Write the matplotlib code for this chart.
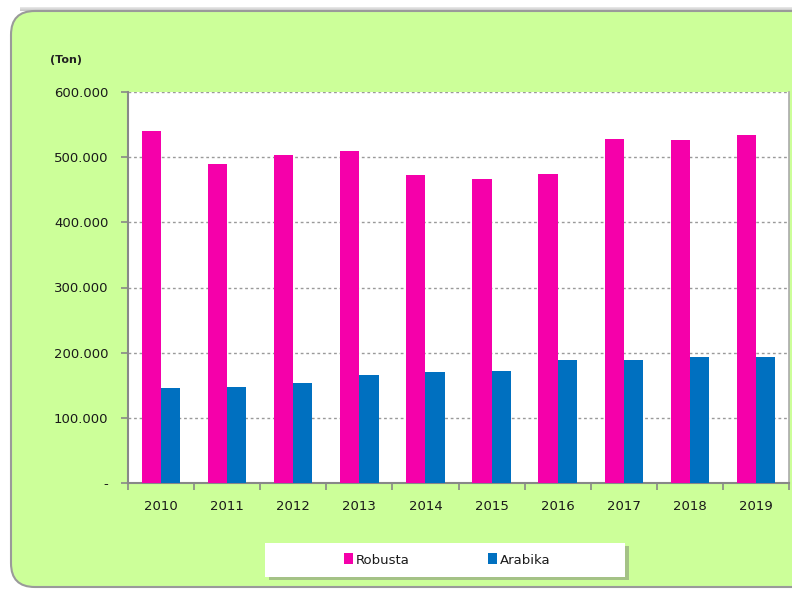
import matplotlib
matplotlib.use("Agg")
import matplotlib.pyplot as plt
import numpy as np
from matplotlib.patches import FancyBboxPatch, Rectangle, Patch
from matplotlib.ticker import FixedLocator

years = ["2010", "2011", "2012", "2013", "2014", "2015", "2016", "2017", "2018", "2019"]
robusta = [540000, 489500, 503000, 509000, 472500, 466500, 474000, 528000, 527000, 534000]
arabika = [146000, 148000, 153000, 165000, 170000, 172000, 189000, 189000, 193000, 194000]
yticks = [0, 100000, 200000, 300000, 400000, 500000, 600000]
ytick_labels = ["-", "100.000", "200.000", "300.000", "400.000", "500.000", "600.000"]

W, H = 792, 590
fig = plt.figure(figsize=(W / 100, H / 100), dpi=100)
fig.patch.set_facecolor("white")

# subtle top shadow
for i, a in enumerate([0.10, 0.14, 0.18, 0.22]):
    fig.patches.append(Rectangle((20 / W, (H - 8 - i) / H), 1, 1 / H, transform=fig.transFigure,
                                 facecolor="black", edgecolor="none", alpha=a, zorder=-11))

# green panel background
panel = FancyBboxPatch((11 / W, 3 / H), (W + 30) / W, (H - 14) / H,
                       boxstyle="round,pad=0,rounding_size=0.03",
                       transform=fig.transFigure, facecolor="#CCFF99",
                       edgecolor="#9a9a9a", linewidth=1.5, zorder=-10,
                       mutation_aspect=W / H)
fig.patches.append(panel)

ax = fig.add_axes([128 / W, (H - 483) / H, (789 - 128) / W, (483 - 92) / H])
ax.set_zorder(5)
ax.set_facecolor("white")

x = np.arange(len(years))
bw = 0.29
ax.bar(x - bw / 2, robusta, bw, color="#F500AA", zorder=3)
ax.bar(x + bw / 2, arabika, bw, color="#0070C0", zorder=3)

ax.set_xlim(-0.5, len(years) - 0.5)
ax.set_ylim(0, 600000)
ax.set_yticks(yticks)
ax.set_yticklabels(ytick_labels)
ax.set_xticks(x)
ax.set_xticklabels(years)
ax.xaxis.set_minor_locator(FixedLocator(np.arange(-0.5, len(years), 1.0)))
ax.tick_params(axis="x", which="major", length=0, pad=12, labelsize=9.5, labelcolor="#1a1a1a")
ax.tick_params(axis="x", which="minor", length=5, width=1.2, color="#888888", direction="out")
ax.tick_params(axis="y", length=5, width=1.2, color="#888888", pad=9, labelsize=9.5, labelcolor="#1a1a1a")

ax.yaxis.grid(True, linestyle=(0, (2, 2)), color="#9a9a9a", linewidth=1.0, zorder=1)
ax.set_axisbelow(True)
for s in ["left", "bottom"]:
    ax.spines[s].set_color("#888888")
    ax.spines[s].set_linewidth(1.5)
ax.spines["right"].set_color("#aaaaaa")
ax.spines["right"].set_linewidth(1.2)
ax.spines["top"].set_visible(False)

fig.text(50 / W, 1 - 60 / H, "(Ton)", fontsize=8, fontweight="bold", color="#222222", va="center")

# legend box with shadow
lx0, ly0, lw, lh = 265 / W, (H - 577) / H, 360 / W, 34 / H
fig.patches.append(Rectangle((lx0 + 4 / W, ly0 - 3 / H), lw, lh, transform=fig.transFigure,
                             facecolor="#8a9a7a", edgecolor="none", alpha=0.6, zorder=1))
fig.patches.append(Rectangle((lx0, ly0), lw, lh, transform=fig.transFigure,
                             facecolor="white", edgecolor="none", zorder=2))
handles = [Patch(facecolor="#F500AA", label="Robusta"), Patch(facecolor="#0070C0", label="Arabika")]
leg = fig.legend(handles=handles, loc="center", bbox_to_anchor=(lx0 + lw / 2 + 2 / W, ly0 + lh / 2),
                 ncol=2, frameon=False, fontsize=9.5, handlelength=0.7, handleheight=0.9,
                 handletextpad=0.2, columnspacing=5.9)
leg.set_zorder(6)
for t in leg.get_texts():
    t.set_color("#1a1a1a")

fig.savefig("out.png", dpi=100)
